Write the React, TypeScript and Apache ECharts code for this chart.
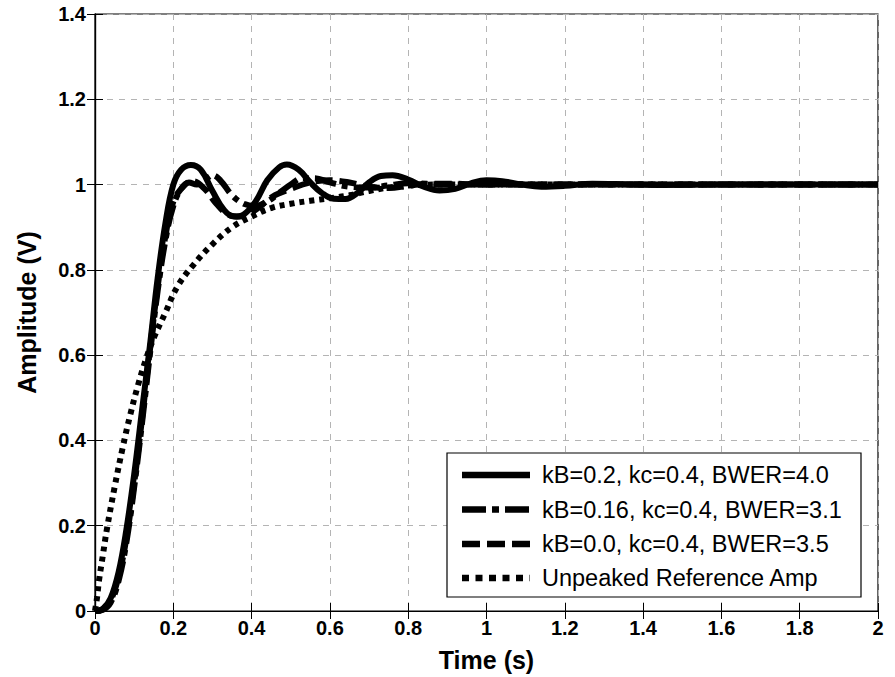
import React, { useEffect, useRef } from "react";
import * as echarts from "echarts";

// Tick values
const xTicks = [0, 0.2, 0.4, 0.6, 0.8, 1, 1.2, 1.4, 1.6, 1.8, 2];
const yTicks = [0, 0.2, 0.4, 0.6, 0.8, 1, 1.2, 1.4];

const seriesNames = [
  "kB=0.2, kc=0.4, BWER=4.0",
  "kB=0.16, kc=0.4, BWER=3.1",
  "kB=0.0, kc=0.4, BWER=3.5",
  "Unpeaked Reference Amp",
];

// kB=0.2 (solid)
const solidT = [0, 0.02, 0.04, 0.06, 0.08, 0.1, 0.12, 0.14, 0.16, 0.18, 0.2, 0.22, 0.245, 0.27, 0.3, 0.33, 0.355, 0.38, 0.41, 0.44, 0.47, 0.49, 0.52, 0.55, 0.58, 0.61, 0.64, 0.67, 0.7, 0.73, 0.76, 0.8, 0.84, 0.88, 0.92, 0.96, 1.0, 1.04, 1.09, 1.14, 1.2, 1.27, 1.35, 1.45, 1.6, 2.0];
const solidV = [0, 0.005, 0.03, 0.09, 0.19, 0.32, 0.47, 0.62, 0.78, 0.91, 1.0, 1.035, 1.046, 1.035, 0.985, 0.94, 0.925, 0.93, 0.96, 1.01, 1.04, 1.047, 1.035, 1.005, 0.98, 0.967, 0.966, 0.98, 1.005, 1.02, 1.022, 1.012, 0.995, 0.986, 0.99, 1.003, 1.01, 1.008, 1.0, 0.995, 0.997, 1.002, 1.001, 0.999, 1.0, 1.0];

// kB=0.16 (dash-dot)
const dashDotT = [0, 0.02, 0.04, 0.06, 0.08, 0.1, 0.12, 0.14, 0.16, 0.18, 0.2, 0.22, 0.24, 0.26, 0.28, 0.3, 0.32, 0.35, 0.38, 0.41, 0.44, 0.47, 0.5, 0.53, 0.56, 0.6, 0.65, 0.7, 0.75, 0.8, 0.9, 2.0];
const dashDotV = [0, 0.003, 0.02, 0.07, 0.16, 0.29, 0.44, 0.6, 0.75, 0.87, 0.95, 0.99, 1.005, 1.0, 1.01, 1.022, 1.01, 0.975, 0.955, 0.95, 0.96, 0.98, 1.0, 1.015, 1.015, 1.005, 0.995, 0.993, 0.998, 1.003, 1.0, 1.0];

// kB=0.0 (dashed)
const dashedT = [0, 0.02, 0.04, 0.06, 0.08, 0.1, 0.12, 0.14, 0.16, 0.18, 0.2, 0.23, 0.25, 0.28, 0.31, 0.34, 0.37, 0.4, 0.43, 0.46, 0.5, 0.55, 0.6, 0.65, 0.7, 0.75, 0.8, 0.85, 0.9, 1.0, 2.0];
const dashedV = [0, 0.004, 0.025, 0.08, 0.17, 0.3, 0.45, 0.61, 0.76, 0.88, 0.96, 1.0, 1.008, 0.99, 0.955, 0.93, 0.925, 0.935, 0.955, 0.975, 0.99, 1.005, 1.01, 1.005, 0.995, 0.992, 0.997, 1.002, 1.002, 1.0, 1.0];

// Unpeaked reference (dotted)
const dottedT = [0, 0.005, 0.01, 0.02, 0.03, 0.05, 0.07, 0.09, 0.11, 0.13, 0.15, 0.18, 0.21, 0.25, 0.3, 0.35, 0.4, 0.45, 0.5, 0.55, 0.6, 0.65, 0.7, 0.75, 0.8, 0.9, 2.0];
const dottedV = [0, 0.03, 0.07, 0.13, 0.19, 0.29, 0.38, 0.46, 0.53, 0.59, 0.64, 0.7, 0.76, 0.81, 0.86, 0.9, 0.925, 0.945, 0.955, 0.962, 0.968, 0.975, 0.985, 0.993, 0.998, 1.0, 1.0];

const zip = (t: number[], v: number[]) => t.map((x, i) => [x, v[i]]);

const fmt = (v: number) => String(Math.round(v * 10) / 10);

const dashes: (number[] | null)[] = [null, [22, 6, 6, 6], [17, 7], [5, 5]];
const legendDashes: (number[] | null)[] = [null, [24, 6, 7, 6], [18, 7], [7, 6.5]];

export default function App() {
  const ref = useRef<HTMLDivElement>(null);
  useEffect(() => {
    if (!ref.current) return;
    const chart = echarts.init(ref.current, null, { renderer: "svg" });
    const font = "Arial, 'Liberation Sans', Helvetica, sans-serif";
    const tickStyle = { inside: true, length: 8, lineStyle: { color: "#000", width: 1 } };
    const splitStyle = { show: true, lineStyle: { color: "#b4b4b4", type: [6, 6] as any, width: 1 } };
    const lineW = 6;
    const sData = [zip(solidT, solidV), zip(dashDotT, dashDotV), zip(dashedT, dashedV), zip(dottedT, dottedV)];

    // legend drawn as graphic
    const boxL = 447, boxT = 453, boxR = 861, boxB = 597;
    const rowY = [475, 509.5, 544, 578];
    const legendEls: any[] = [
      { type: "rect", shape: { x: boxL, y: boxT, width: boxR - boxL, height: boxB - boxT }, style: { fill: "#fff", stroke: "#000", lineWidth: 1.2 }, z: 100 },
    ];
    seriesNames.forEach((n, i) => {
      legendEls.push({
        type: "line",
        shape: { x1: 462, y1: rowY[i], x2: 530, y2: rowY[i] },
        style: { stroke: "#000", lineWidth: 6.5, lineDash: legendDashes[i] || undefined, lineCap: "butt" },
        z: 101,
      });
      legendEls.push({
        type: "text", x: 542, y: rowY[i],
        style: { text: n, fontFamily: font, fontSize: 23.5, fill: "#000", textVerticalAlign: "middle", verticalAlign: "middle" },
        z: 101,
      });
    });

    chart.setOption({
      animation: false,
      backgroundColor: "#fff",
      grid: { left: 95, right: 17, top: 14, bottom: 66, show: true, borderColor: "#000", borderWidth: 1.2, containLabel: false },
      xAxis: [
        {
          type: "value", min: 0, max: 2, interval: 0.2, position: "bottom",
          name: "Time (s)", nameLocation: "middle", nameGap: 36,
          nameTextStyle: { fontFamily: font, fontWeight: "bold", fontSize: 25, color: "#000" },
          axisLine: { show: true, lineStyle: { color: "#000", width: 1.2 } },
          axisTick: tickStyle,
          axisLabel: { formatter: fmt, fontFamily: font, fontWeight: "bold", fontSize: 20, color: "#000", margin: 7 },
          splitLine: splitStyle,
        },
        {
          type: "value", min: 0, max: 2, interval: 0.2, position: "top",
          axisLine: { show: true, lineStyle: { color: "#000", width: 1.2 } },
          axisTick: tickStyle, axisLabel: { show: false }, splitLine: { show: false },
        },
      ],
      yAxis: [
        {
          type: "value", min: 0, max: 1.4, interval: 0.2, position: "left",
          name: "Amplitude (V)", nameLocation: "middle", nameGap: 56, nameRotate: 90,
          nameTextStyle: { fontFamily: font, fontWeight: "bold", fontSize: 25, color: "#000" },
          axisLine: { show: true, lineStyle: { color: "#000", width: 1.2 } },
          axisTick: tickStyle,
          axisLabel: { formatter: fmt, fontFamily: font, fontWeight: "bold", fontSize: 20, color: "#000", margin: 9 },
          splitLine: splitStyle,
        },
        {
          type: "value", min: 0, max: 1.4, interval: 0.2, position: "right",
          axisLine: { show: true, lineStyle: { color: "#000", width: 1.2 } },
          axisTick: tickStyle, axisLabel: { show: false }, splitLine: { show: false },
        },
      ],
      graphic: legendEls,
      series: seriesNames.map((n, i) => ({
        name: n, type: "line", data: sData[i], smooth: 0.4, symbol: "none",
        lineStyle: { color: "#000", width: lineW, type: dashes[i] || "solid", cap: "butt" },
        itemStyle: { color: "#000" }, z: 5 - i,
      })),
    });
    return () => chart.dispose();
  }, []);
  return <div ref={ref} style={{ position: "fixed", left: 0, top: 0, width: 895, height: 677 }} />;
}
